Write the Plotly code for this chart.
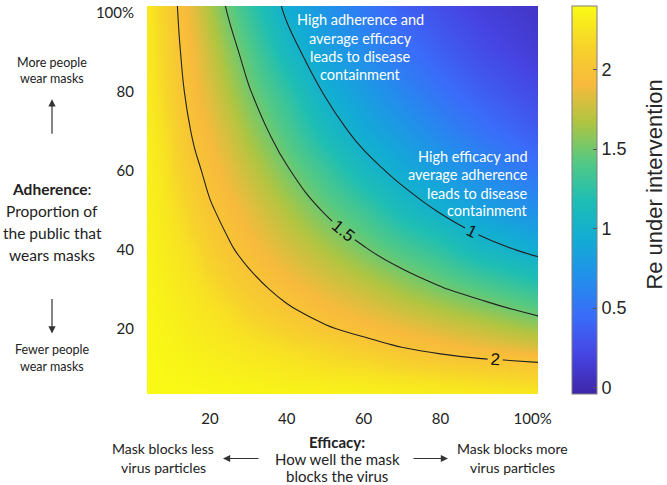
import plotly.graph_objects as go

# efficacy (%) across, adherence (%) up
efficacy = [4, 8, 12, 16, 20, 25, 30, 40, 50, 60, 70, 80, 90, 106]
adherence = [3, 8, 12, 16, 20, 25, 30, 40, 50, 60, 70, 80, 90, 102]

re_grid = [
    [2.40, 2.39, 2.39, 2.39, 2.38, 2.38, 2.37, 2.36, 2.36, 2.35, 2.34, 2.33, 2.32, 2.30],
    [2.39, 2.38, 2.37, 2.36, 2.35, 2.34, 2.33, 2.30, 2.28, 2.26, 2.23, 2.20, 2.17, 2.13],
    [2.39, 2.37, 2.36, 2.34, 2.33, 2.31, 2.29, 2.26, 2.21, 2.17, 2.10, 2.05, 2.02, 1.98],
    [2.38, 2.36, 2.34, 2.32, 2.30, 2.28, 2.26, 2.20, 2.14, 2.05, 1.98, 1.93, 1.87, 1.79],
    [2.38, 2.35, 2.33, 2.30, 2.28, 2.25, 2.21, 2.11, 2.02, 1.95, 1.89, 1.82, 1.75, 1.62],
    [2.37, 2.34, 2.31, 2.28, 2.25, 2.21, 2.12, 2.02, 1.93, 1.85, 1.76, 1.67, 1.58, 1.43],
    [2.36, 2.33, 2.29, 2.26, 2.21, 2.12, 2.06, 1.95, 1.85, 1.75, 1.63, 1.52, 1.42, 1.26],
    [2.35, 2.30, 2.26, 2.20, 2.10, 2.02, 1.95, 1.81, 1.67, 1.52, 1.38, 1.26, 1.09, 0.94],
    [2.34, 2.28, 2.21, 2.10, 2.02, 1.94, 1.86, 1.67, 1.48, 1.32, 1.12, 0.98, 0.85, 0.69],
    [2.33, 2.26, 2.14, 2.04, 1.95, 1.86, 1.75, 1.52, 1.32, 1.09, 0.93, 0.80, 0.67, 0.49],
    [2.32, 2.23, 2.09, 1.97, 1.89, 1.77, 1.63, 1.38, 1.12, 0.92, 0.78, 0.63, 0.50, 0.34],
    [2.30, 2.18, 2.04, 1.92, 1.82, 1.67, 1.52, 1.26, 0.98, 0.80, 0.63, 0.49, 0.37, 0.23],
    [2.29, 2.15, 2.01, 1.89, 1.75, 1.58, 1.42, 1.09, 0.85, 0.67, 0.50, 0.37, 0.26, 0.14],
    [2.28, 2.14, 1.98, 1.82, 1.65, 1.46, 1.28, 0.95, 0.73, 0.53, 0.37, 0.26, 0.17, 0.08],
]

contour_levels = [1, 1.5, 2]
cbar_ticks = [0, 0.5, 1, 1.5, 2]
x_tickvals = [20, 40, 60, 80, 104]
x_ticktext = ['20', '40', '60', '80', '100%']
y_tickvals = [20, 40, 60, 80, 100]
y_ticktext = ['20', '40', '60', '80', '100%']

parula = [
    [0.0, 'rgb(62,38,168)'], [0.1, 'rgb(70,68,226)'], [0.2, 'rgb(58,108,250)'],
    [0.3, 'rgb(34,143,235)'], [0.4, 'rgb(18,172,212)'], [0.5, 'rgb(30,190,180)'],
    [0.6, 'rgb(85,201,130)'], [0.7, 'rgb(175,197,65)'], [0.8, 'rgb(248,186,60)'],
    [0.9, 'rgb(247,212,42)'], [1.0, 'rgb(249,251,20)'],
]

W, H = 667, 485
L, R, T, B = 147, 129, 3, 91
PW, PH = W - L - R, H - T - B


def px(x):
    return (x - L) / PW


def py(y):
    return (H - B - y) / PH


fig = go.Figure()
fig.add_trace(go.Heatmap(
    x=efficacy, y=adherence, z=re_grid, zsmooth='best',
    colorscale=parula, zmin=-0.04, zmax=2.40,
    colorbar=dict(x=px(572), xanchor='left', y=0.5, yanchor='middle',
                  len=1, lenmode='fraction', thickness=25, ypad=0, xpad=0,
                  outlinewidth=1, outlinecolor='#7f7f7f',
                  tickvals=cbar_ticks, ticks='inside', ticklen=4, tickcolor='#555',
                  tickfont=dict(family='Liberation Sans', size=18, color='#262626')),
    hoverinfo='skip',
))
fig.add_trace(go.Contour(
    x=efficacy, y=adherence, z=re_grid,
    contours=dict(start=contour_levels[0], end=contour_levels[-1], size=0.5,
                  coloring='none', showlabels=True,
                  labelfont=dict(family='Liberation Sans', size=17, color='#111')),
    line=dict(color='#222', width=1.1, smoothing=1.3),
    showscale=False, hoverinfo='skip',
))

fig.update_layout(
    width=W, height=H, margin=dict(l=L, r=R, t=T, b=B),
    paper_bgcolor='white', plot_bgcolor='white', showlegend=False,
    font=dict(family='Lato', color='#222'),
    xaxis=dict(range=[3.6, 105.4], tickvals=x_tickvals, ticktext=x_ticktext,
               showgrid=False, zeroline=False, showline=False, ticks='',
               ticklabelstandoff=14, tickfont=dict(size=15, color='#222')),
    yaxis=dict(range=[3.5, 101.75], tickvals=y_tickvals, ticktext=y_ticktext,
               showgrid=False, zeroline=False, showline=False, ticks='',
               ticklabelstandoff=12, tickfont=dict(size=15, color='#222')),
)


def text_block(lines, x, ys, size, color='#222', anchor='center'):
    for t, y in zip(lines, ys):
        fig.add_annotation(x=px(x), y=py(y), xref='paper', yref='paper', text=t,
                           showarrow=False, xanchor=anchor, yanchor='middle',
                           font=dict(family='Lato', size=size, color=color))


def arrow(x, y, ax, ay):
    fig.add_annotation(x=px(x), y=py(y), xref='paper', yref='paper', text='',
                       showarrow=True, ax=ax, ay=ay, arrowhead=2, arrowsize=1.2,
                       arrowwidth=1.2, arrowcolor='#333')


# colorbar title
fig.add_annotation(x=px(655), y=py(183), xref='paper', yref='paper',
                   text='Re under intervention', showarrow=False, textangle=-90,
                   xanchor='center', yanchor='middle',
                   font=dict(family='Liberation Sans', size=22, color='#262626'))

# left side: adherence
text_block(['More people', 'wear masks'], 52, [60, 76], 12.5)
arrow(52, 97, 0, 36)
text_block(['<b>Adherence</b>:', 'Proportion of', 'the public that', 'wears masks'],
           52, [187, 210, 232, 254], 15.5)
arrow(52, 333, 0, -36)
text_block(['Fewer people', 'wear masks'], 52, [349, 366], 12.5)

# bottom: efficacy
text_block(['<b>Efficacy:</b>', 'How well the mask', 'blocks the virus'],
           337, [442, 459, 477], 15)
text_block(['Mask blocks less', 'virus particles'], 163, [449, 468], 14)
arrow(223, 459, 37, 0)
arrow(448, 459, -36, 0)
text_block(['Mask blocks more', 'virus particles'], 512, [449, 468], 14)

# in-plot notes
text_block(['High adherence and', 'average efficacy', 'leads to disease', 'containment'],
           360, [17, 36, 54, 72], 14.5, color='white')
text_block(['High efficacy and', 'average adherence', 'leads to disease', 'containment'],
           530, [155, 173, 192, 209], 14.5, color='white', anchor='right')

fig.write_html("out.html", config={'displayModeBar': False},
               post_script="document.body.style.margin='0';")
